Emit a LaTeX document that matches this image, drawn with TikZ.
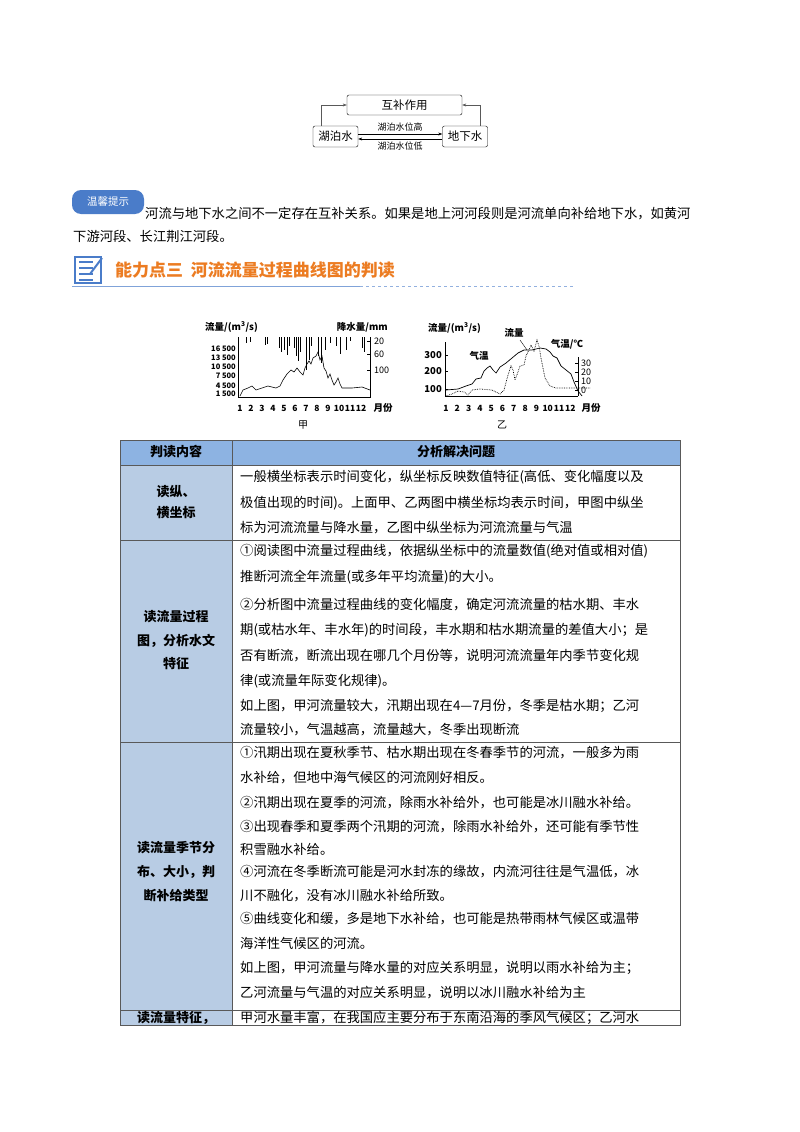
\documentclass[tikz,border=0pt]{standalone}
\usepackage{fontspec}
\setmainfont{Noto Sans CJK SC}
\usetikzlibrary{arrows.meta}
\definecolor{hdr}{HTML}{8DB3E2}
\definecolor{cell}{HTML}{B8CCE4}
\definecolor{pill}{HTML}{4A7CC9}
\definecolor{org}{HTML}{EC7C22}
\begin{document}
\begin{tikzpicture}[x=1pt,y=-1pt,
  bx/.style={draw,rounded corners=2pt,inner sep=0pt,font=\fontsize{11.5}{13}\selectfont},
  sm/.style={font=\fontsize{9}{10}\selectfont,inner sep=0pt},
  tx/.style={anchor=west,inner sep=0pt,font=\fontsize{13.3}{15}\selectfont},
  lb/.style={inner sep=0pt,font=\fontsize{13}{15}\selectfont\bfseries},
  ax/.style={font=\fontsize{9}{10}\selectfont,inner sep=0pt},
  axs/.style={font=\fontsize{7.5}{8}\selectfont\bfseries,inner sep=0pt},
  axb/.style={font=\fontsize{9.5}{11}\selectfont\bfseries,inner sep=0pt}]
\useasboundingbox (0,0) rectangle (800,1132);
\fill[white] (0,0) rectangle (800,1132);
% top diagram
\node[bx,minimum width=115,minimum height=20] (hb) at (404.5,105) {互补作用};
\node[bx,minimum width=45,minimum height=21] (hp) at (335.5,136.5) {湖泊水};
\node[bx,minimum width=45,minimum height=21] (dx) at (465,136.5) {地下水};
\draw[-{Stealth[length=4pt]},gray!70!black] ([xshift=8]hp.north west) |- (hb.west);
\draw[-{Stealth[length=4pt]},gray!70!black] ([xshift=-8]dx.north east) |- (hb.east);
\draw[-{Stealth[length=4pt]}] ([yshift=2.5]hp.east) -- ([yshift=2.5]dx.west);
\draw[-{Stealth[length=4pt]}] ([yshift=-2.5]dx.west) -- ([yshift=-2.5]hp.east);
\node[sm] (lh) at (400,127.5) {湖泊水位高};
\node[sm] (ll) at (400,146.5) {湖泊水位低};
% tip
\node[fill=pill,text=white,rounded corners=9pt,minimum width=72,minimum height=24,inner sep=0pt,font=\fontsize{10.5}{12}\selectfont] (tip) at (108,202) {温馨提示};
\node[tx,anchor=south west] (t1) at (145,220) {河流与地下水之间不一定存在互补关系。如果是地上河河段则是河流单向补给地下水，如黄河};
\node[tx] (t2) at (73,236) {下游河段、长江荆江河段。};
% heading
\node[draw=pill,line width=1.5pt,fill=white,minimum width=26,minimum height=26] (ic) at (88,270) {};
\foreach \yy in {262,268,274,280} \draw[pill,line width=1.2pt] (79,\yy) -- (93,\yy);
\draw[pill,line width=2pt] (90,274) -- (102,258);
\node[anchor=west,inner sep=0pt,text=org,font=\fontsize{17}{19}\selectfont\bfseries] (hd) at (115,270) {能力点三\ \ 河流流量过程曲线图的判读};
\draw[pill!70,line width=1pt] (72,286) -- (360,286);
\draw[pill!60,dashed] (360,286) -- (575,286);
% chart jia
\node[axb,anchor=west] (j1) at (205,327) {流量/(m\textsuperscript{3}/s)};
\node[axb,anchor=east] (j2) at (388,327) {降水量/mm};
\draw (238,337) -- (238,397) -- (370,397) -- (370,337);
\foreach \v/\yy in {16 500/349,13 500/357.5,10 500/366.5,7 500/376,4 500/385.5,1 500/394} \node[axs,anchor=east] at (236,\yy) {\v};
\foreach \v/\yy in {20/341,60/354,100/370} {\node[ax,anchor=west] at (374,\yy) {\v}; \draw (370,\yy)--(367,\yy);}
\foreach \m in {1,...,12} \node[axs,font=\fontsize{8.5}{9}\selectfont\bfseries] at (240+11*\m-11,408) {\m};
\node[axb] at (383,408) {月份};
\node[ax,font=\fontsize{10}{12}\selectfont] at (303,425) {甲};
\foreach \xx/\ll in {246/343,250/342,265/345,267/344,279/348,281/352,284/350,287/355,289/346,294/348,296/356,298/361,300/352,306/370,309/360,311/346,318/356,321/363,325/350,330/343,336/346,340/354,346/350,350/341,362/348,364/352} \draw[line width=0.8pt] (\xx,337) -- (\xx,\ll);
\draw[line width=0.6pt] plot coordinates {(240,396)(243,390)(248,388)(252,386)(256,390)(262,388)(268,386)(276,388)(280,386)(283,380)(287,374)(291,370)(294,372)(297,368)(300,372)(303,375)(305,368)(307,364)(309,361)(311,364)(313,358)(316,356)(318,352)(320,360)(322,356)(324,368)(326,371)(328,378)(330,374)(332,380)(334,385)(336,382)(338,378)(340,384)(342,388)(352,388)(362,387)(370,390)};
% chart yi
\node[axb,anchor=west] (y1) at (428,328) {流量/(m\textsuperscript{3}/s)};
\node[axb] at (514,333) {流量};
\node[axb] at (479,356) {气温};
\node[axb] at (567,344) {气温/℃};
\draw (445,342) -- (445,396) -- (578,396);
\draw (578,357) -- (578,396);
\foreach \v/\yy in {300/355,200/371,100/389} {\node[axb,anchor=east] at (442,\yy) {\v}; \draw (445,\yy)--(448,\yy);}
\foreach \v/\yy in {30/363,20/372,10/381,0/390} {\node[ax,anchor=west] at (581,\yy) {\v}; \draw (578,\yy)--(575,\yy);}
\foreach \m in {1,...,12} \node[axs,font=\fontsize{8.5}{9}\selectfont\bfseries] at (446+11.3*\m-11.3,408) {\m};
\node[axb] at (591,408) {月份};
\node[ax,font=\fontsize{10}{12}\selectfont] at (502,425) {乙};
\draw[line width=0.7pt] plot coordinates {(446,390)(458,389)(466,386)(472,384)(476,379)(481,378)(484,371)(487,368)(490,366)(493,370)(496,373)(500,367)(506,363)(512,358)(518,353)(524,350)(532,350)(540,348)(546,349)(550,352)(553,356)(557,358)(561,366)(566,370)(571,374)(574,382)(578,391)(582,396)};
\draw[line width=0.7pt,densely dotted] plot coordinates {(446,396)(452,394)(458,391)(464,392)(468,395)(472,390)(480,389)(492,390)(500,394)(504,390)(508,375)(511,366)(513,370)(515,380)(518,372)(520,366)(524,365)(526,356)(529,350)(531,345)(534,351)(537,340)(539,346)(541,358)(545,378)(550,386)(556,388)(570,388)(590,388)};
\draw (520,340) -- (527,350);
% table
\fill[hdr] (120,440) rectangle (680,465);
\fill[cell] (120,465) rectangle (232,1025);
\draw[gray!70!black,line width=0.7pt] (120,440) rectangle (680,1025);
\foreach \yy in {465,540,742,1010} \draw[gray!70!black,line width=0.7pt] (120,\yy) -- (680,\yy);
\draw[gray!70!black,line width=0.7pt] (232,440) -- (232,1025);
\node[lb] (h1) at (176,452) {判读内容};
\node[lb] (h2) at (456,452) {分析解决问题};
\node[lb] (a1) at (176,492) {读纵、};
\node[lb] (a2) at (176,513) {横坐标};
\node[lb] (b1) at (176,617) {读流量过程};
\node[lb] (b2) at (176,641) {图，分析水文};
\node[lb] (b3) at (176,664) {特征};
\node[lb] (c1) at (176,848) {读流量季节分};
\node[lb] (c2) at (176,872) {布、大小，判};
\node[lb] (c3) at (176,896) {断补给类型};
\node[lb] (d1) at (176,1018) {读流量特征，};
\node[tx] at (240,477) {一般横坐标表示时间变化，纵坐标反映数值特征(高低、变化幅度以及};
\node[tx] at (240,503) {极值出现的时间)。上面甲、乙两图中横坐标均表示时间，甲图中纵坐};
\node[tx] at (240,528) {标为河流流量与降水量，乙图中纵坐标为河流流量与气温};
\node[tx] at (240,551) {①阅读图中流量过程曲线，依据纵坐标中的流量数值(绝对值或相对值)};
\node[tx] at (240,577) {推断河流全年流量(或多年平均流量)的大小。};
\node[tx] at (240,605) {②分析图中流量过程曲线的变化幅度，确定河流流量的枯水期、丰水};
\node[tx] at (240,630) {期(或枯水年、丰水年)的时间段，丰水期和枯水期流量的差值大小；是};
\node[tx] at (240,656) {否有断流，断流出现在哪几个月份等，说明河流流量年内季节变化规};
\node[tx] at (240,681) {律(或流量年际变化规律)。};
\node[tx] at (240,706) {如上图，甲河流量较大，汛期出现在4—7月份，冬季是枯水期；乙河};
\node[tx] at (240,730) {流量较小，气温越高，流量越大，冬季出现断流};
\node[tx] at (240,753) {①汛期出现在夏秋季节、枯水期出现在冬春季节的河流，一般多为雨};
\node[tx] at (240,778) {水补给，但地中海气候区的河流刚好相反。};
\node[tx] at (240,803) {②汛期出现在夏季的河流，除雨水补给外，也可能是冰川融水补给。};
\node[tx] at (240,827) {③出现春季和夏季两个汛期的河流，除雨水补给外，还可能有季节性};
\node[tx] at (240,849) {积雪融水补给。};
\node[tx] at (240,872) {④河流在冬季断流可能是河水封冻的缘故，内流河往往是气温低，冰};
\node[tx] at (240,896) {川不融化，没有冰川融水补给所致。};
\node[tx] at (240,919) {⑤曲线变化和缓，多是地下水补给，也可能是热带雨林气候区或温带};
\node[tx] at (240,943) {海洋性气候区的河流。};
\node[tx] at (240,968) {如上图，甲河流量与降水量的对应关系明显，说明以雨水补给为主；};
\node[tx] at (240,993) {乙河流量与气温的对应关系明显，说明以冰川融水补给为主};
\node[tx] at (240,1018) {甲河水量丰富，在我国应主要分布于东南沿海的季风气候区；乙河水};
\end{tikzpicture}
\end{document}
